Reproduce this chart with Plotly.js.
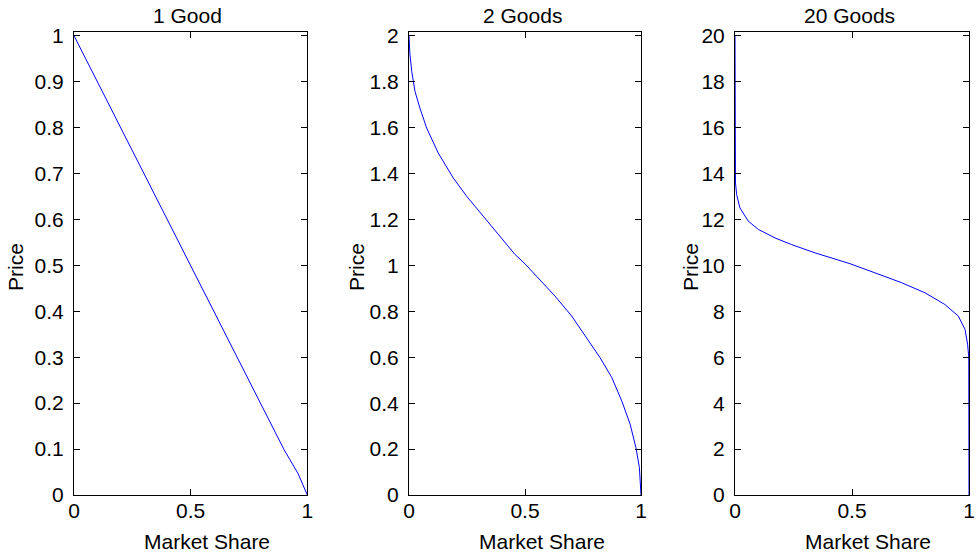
<!DOCTYPE html>
<html>
<head>
<meta charset="utf-8">
<script src="https://cdn.plot.ly/plotly-3.0.1.min.js"></script>
<style>html,body{margin:0;padding:0;background:#fff;}#chart{width:976px;height:554px;}</style>
</head>
<body>
<div id="chart"></div>
<script>
// Panel titles
var panelTitles = ["1 Good", "2 Goods", "20 Goods"];
var xLabel = "Market Share";
var yLabel = "Price";

// 1 Good
var share1 = [0, 0.1, 0.2, 0.3, 0.4, 0.5, 0.6, 0.7, 0.8, 0.9, 0.96, 1];
var price1 = [1, 0.9, 0.8, 0.7, 0.6, 0.5, 0.4, 0.3, 0.2, 0.099, 0.047, 0];

// 2 Goods
var share2 = [0, 0.004, 0.012, 0.026, 0.047, 0.076, 0.126, 0.191, 0.249, 0.32, 0.392, 0.457, 0.5, 0.629, 0.701, 0.766, 0.823, 0.874, 0.917, 0.953, 0.978, 0.993, 0.998, 1];
var price2 = [2, 1.92, 1.845, 1.758, 1.686, 1.599, 1.49, 1.381, 1.301, 1.214, 1.127, 1.048, 1.007, 0.867, 0.78, 0.686, 0.599, 0.512, 0.41, 0.309, 0.207, 0.12, 0.05, 0];

// 20 Goods
var share3 = [0, 0, 0.002, 0.007, 0.021, 0.057, 0.1, 0.171, 0.242, 0.342, 0.491, 0.598, 0.712, 0.812, 0.897, 0.954, 0.983, 0.994, 0.999, 1];
var price3 = [20, 14, 13.6, 13.09, 12.51, 11.93, 11.57, 11.2, 10.91, 10.55, 10.08, 9.68, 9.25, 8.81, 8.30, 7.80, 7.22, 6.57, 6.0, 0];

// Tick values
var xTicks = [0, 0.5, 1];
var xTickText = ["0", "0.5", "1"];
var yTicks1 = [0, 0.1, 0.2, 0.3, 0.4, 0.5, 0.6, 0.7, 0.8, 0.9, 1];
var yTickText1 = ["0", "0.1", "0.2", "0.3", "0.4", "0.5", "0.6", "0.7", "0.8", "0.9", "1"];
var yTicks2 = [0, 0.2, 0.4, 0.6, 0.8, 1, 1.2, 1.4, 1.6, 1.8, 2];
var yTickText2 = ["0", "0.2", "0.4", "0.6", "0.8", "1", "1.2", "1.4", "1.6", "1.8", "2"];
var yTicks3 = [0, 2, 4, 6, 8, 10, 12, 14, 16, 18, 20];
var yTickText3 = ["0", "2", "4", "6", "8", "10", "12", "14", "16", "18", "20"];

var W = 976, H = 554;
var FONT = "Liberation Sans, Arial, Helvetica, sans-serif";
var fs = 21;

var xDomains = [[74 / W, 307.3 / W], [409 / W, 641 / W], [735 / W, 969 / W]];
var yDomain = [(H - 495) / H, (H - 32.3) / H];
var yRanges = [[0, 1.0074], [0, 2.016], [0, 20.16]];

function lineTrace(x, y, xa, ya) {
  return {x: x, y: y, xaxis: xa, yaxis: ya, type: "scatter", mode: "lines",
          line: {color: "#0000ff", width: 1}, hoverinfo: "skip", showlegend: false};
}

var data = [
  lineTrace(share1, price1, "x", "y"),
  lineTrace(share2, price2, "x2", "y2"),
  lineTrace(share3, price3, "x3", "y3")
];

function xAxis(dom, anchor) {
  return {domain: dom, anchor: anchor, range: [0, 1], tickvals: xTicks, ticktext: xTickText,
          ticks: "inside", ticklen: 6, tickwidth: 1, tickcolor: "#000", mirror: "ticks",
          showline: true, linecolor: "#000", linewidth: 1, showgrid: false, zeroline: false,
          tickfont: {family: FONT, size: fs, color: "#000"}, ticklabelstandoff: -3, fixedrange: true};
}
function yAxis(range, tv, tt, anchor) {
  return {domain: yDomain, anchor: anchor, range: range, tickvals: tv, ticktext: tt,
          ticks: "inside", ticklen: 6, tickwidth: 1, tickcolor: "#000", mirror: "ticks",
          showline: true, linecolor: "#000", linewidth: 1, showgrid: false, zeroline: false,
          tickfont: {family: FONT, size: fs, color: "#000"}, ticklabelstandoff: 5, fixedrange: true};
}

var annotations = [];
var titleX = [187, 522, 849.5];
var xlabX = [206.7, 541.7, 868];
var ylabX = [15, 356, 690];
for (var i = 0; i < 3; i++) {
  annotations.push({text: panelTitles[i], xref: "paper", yref: "paper", x: titleX[i] / W, y: (H - 15.3) / H,
    xanchor: "center", yanchor: "middle", showarrow: false, font: {family: FONT, size: fs, color: "#000"}});
  annotations.push({text: xLabel, xref: "paper", yref: "paper", x: xlabX[i] / W, y: (H - 541.7) / H,
    xanchor: "center", yanchor: "middle", showarrow: false, font: {family: FONT, size: fs, color: "#000"}});
  annotations.push({text: yLabel, xref: "paper", yref: "paper", x: ylabX[i] / W, y: (H - 267) / H,
    xanchor: "center", yanchor: "middle", textangle: -90, showarrow: false, font: {family: FONT, size: fs, color: "#000"}});
}

var layout = {
  width: W, height: H,
  margin: {l: 0, r: 0, t: 0, b: 0},
  paper_bgcolor: "#fff", plot_bgcolor: "#fff",
  showlegend: false,
  xaxis: xAxis(xDomains[0], "y"),
  yaxis: yAxis(yRanges[0], yTicks1, yTickText1, "x"),
  xaxis2: xAxis(xDomains[1], "y2"),
  yaxis2: yAxis(yRanges[1], yTicks2, yTickText2, "x2"),
  xaxis3: xAxis(xDomains[2], "y3"),
  yaxis3: yAxis(yRanges[2], yTicks3, yTickText3, "x3"),
  annotations: annotations
};

Plotly.newPlot("chart", data, layout, {displayModeBar: false, staticPlot: true});
</script>
</body>
</html>
